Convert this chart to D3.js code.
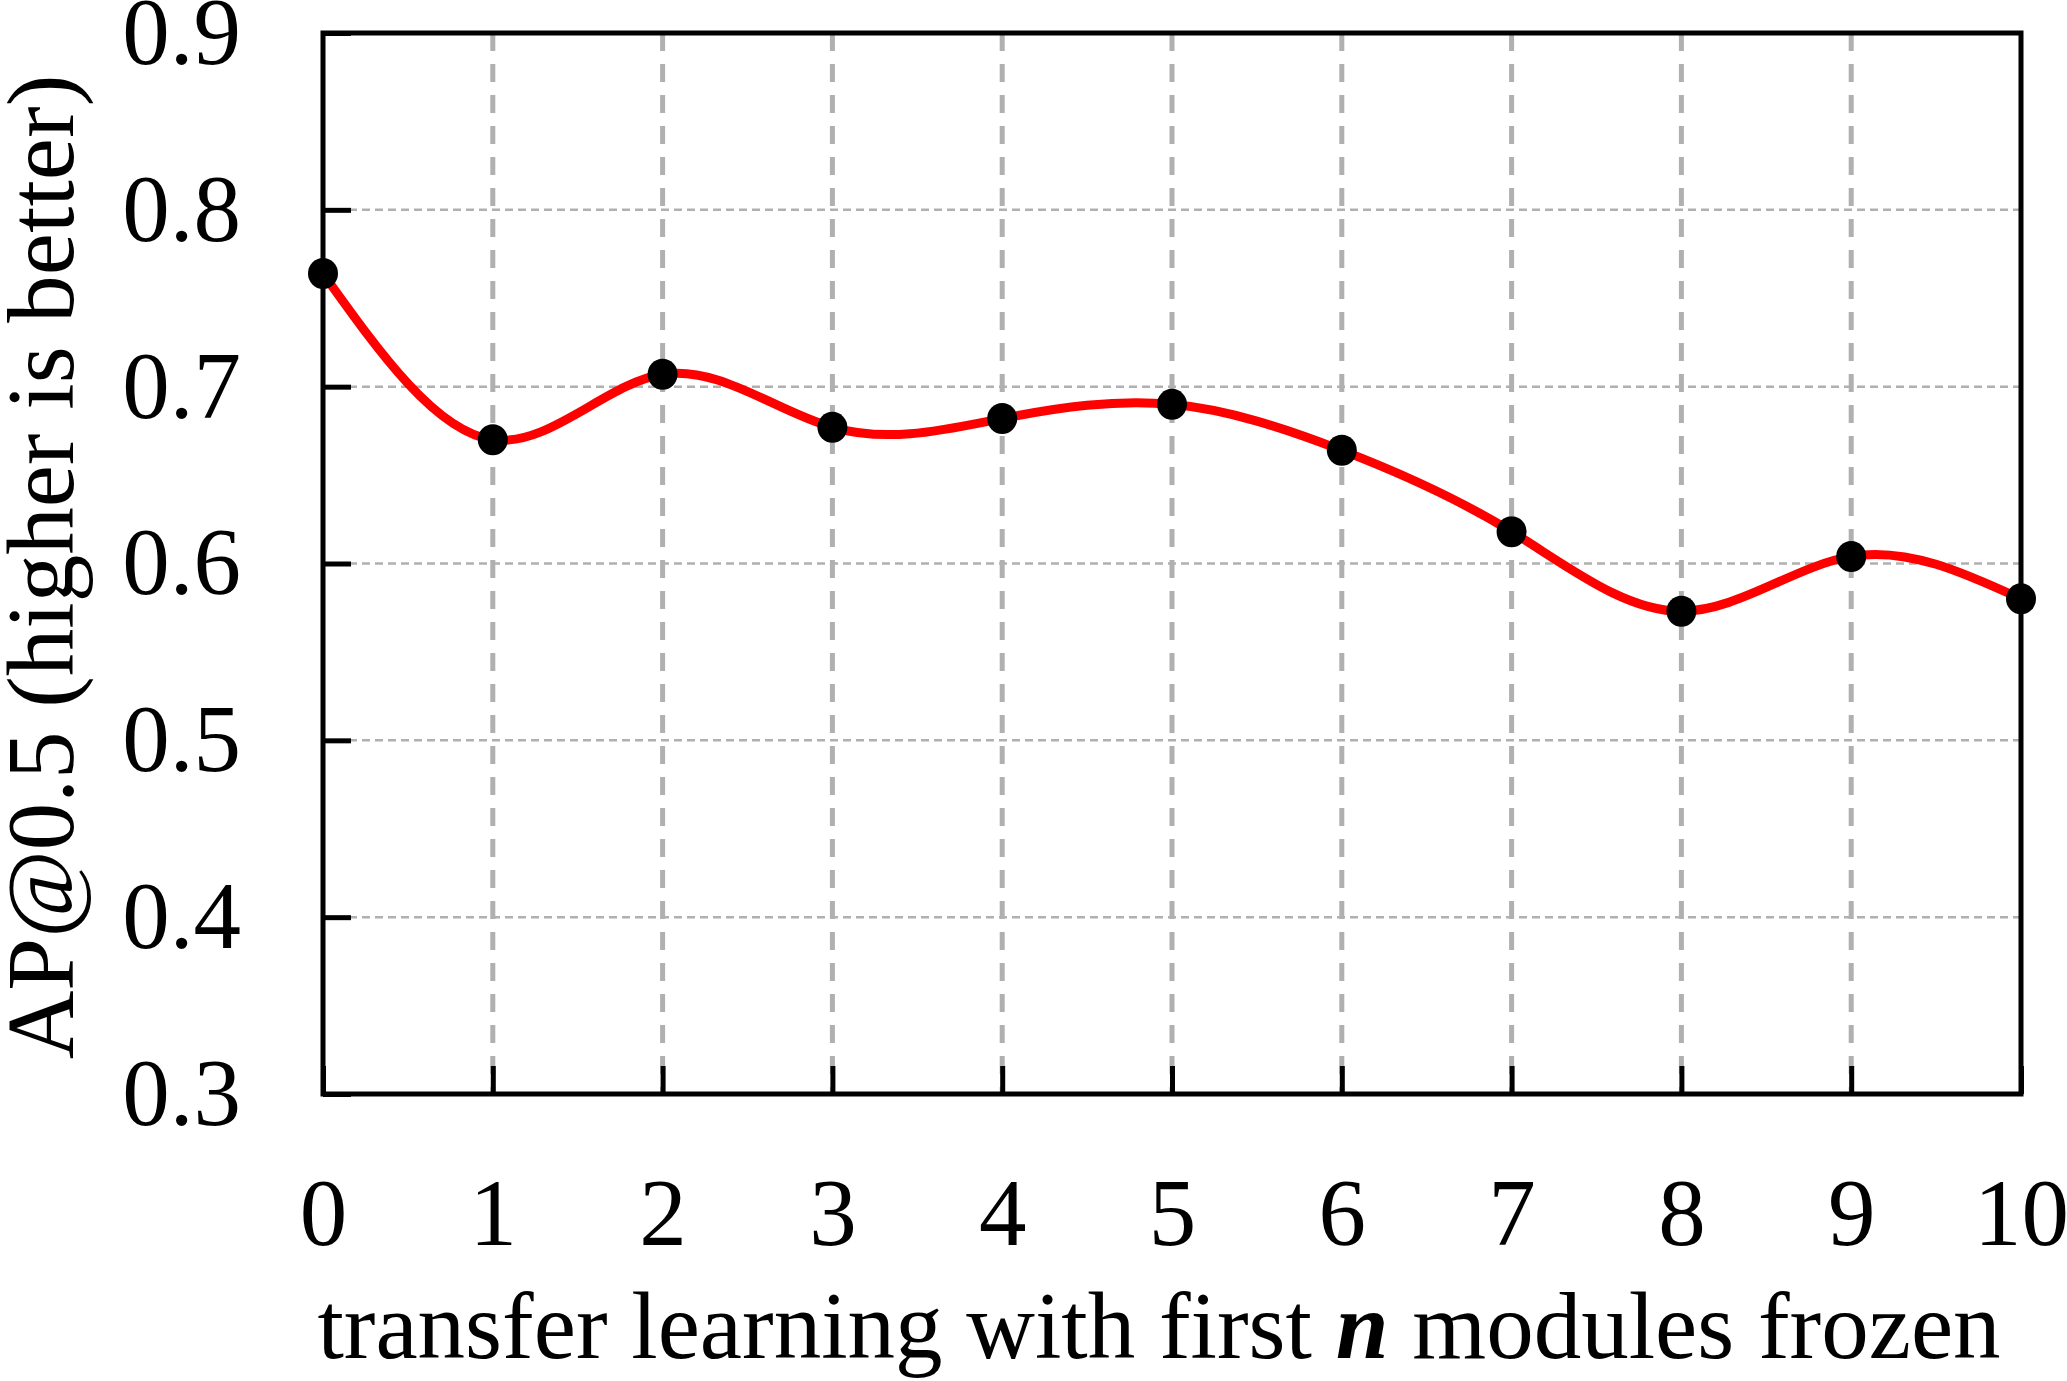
<!DOCTYPE html>
<html>
<head>
<meta charset="utf-8">
<script src="https://cdn.jsdelivr.net/npm/d3@7"></script>
<style>
  html, body { margin: 0; padding: 0; background: #fff; }
  svg { display: block; }
  text { font-family: "Liberation Serif", "Times New Roman", serif; fill: #000; }
</style>
</head>
<body>
<svg id="chart"></svg>
<script>
// Data
const frozenModules = [0, 1, 2, 3, 4, 5, 6, 7, 8, 9, 10];
const apValues = [0.764, 0.670, 0.707, 0.677, 0.682, 0.690, 0.664, 0.618, 0.573, 0.604, 0.580];
const yTicks = [0.3, 0.4, 0.5, 0.6, 0.7, 0.8, 0.9];
const xTicks = [0, 1, 2, 3, 4, 5, 6, 7, 8, 9, 10];

// Layout
const layout = {
  width: 2067,
  height: 1381,
  left: 323,
  right: 2021,
  top: 33,
  bottom: 1094,
};
const fontSize = 95;
const tickLen = 28;

const svg = d3.select('#chart')
  .attr('width', layout.width)
  .attr('height', layout.height);

// Scales
const x = d3.scaleLinear().domain([0, 10]).range([layout.left, layout.right]);
const y = d3.scaleLinear().domain([0.3, 0.9]).range([layout.bottom, layout.top]);

// Grid lines
const grid = svg.append('g').attr('class', 'grid');
grid.selectAll('line.h')
  .data(yTicks.slice(1, -1))
  .enter().append('line')
  .attr('x1', layout.left)
  .attr('x2', layout.right)
  .attr('y1', d => y(d))
  .attr('y2', d => y(d))
  .attr('stroke', '#b0b0b0')
  .attr('stroke-width', 2.5)
  .attr('stroke-dasharray', '8,5');

grid.selectAll('line.v')
  .data(xTicks.slice(1, -1))
  .enter().append('line')
  .attr('x1', d => x(d))
  .attr('x2', d => x(d))
  .attr('y1', layout.top)
  .attr('y2', layout.bottom)
  .attr('stroke', '#b0b0b0')
  .attr('stroke-width', 5)
  .attr('stroke-dasharray', '18,13');

// Axes (ticks point inward)
const yAxis = svg.append('g')
  .attr('transform', `translate(${layout.left},0)`)
  .call(d3.axisLeft(y)
    .tickValues(yTicks)
    .tickFormat(d3.format('.1f'))
    .tickSizeInner(-tickLen)
    .tickSizeOuter(0)
    .tickPadding(82));

const xAxis = svg.append('g')
  .attr('transform', `translate(0,${layout.bottom})`)
  .call(d3.axisBottom(x)
    .tickValues(xTicks)
    .tickFormat(d3.format('d'))
    .tickSizeInner(-tickLen)
    .tickSizeOuter(0)
    .tickPadding(84));

[yAxis, xAxis].forEach(function(axis) {
  axis.select('.domain').remove();
  axis.selectAll('.tick line').attr('stroke', '#000').attr('stroke-width', 5);
  axis.selectAll('.tick text')
    .style('font-family', '"Liberation Serif", "Times New Roman", serif')
    .style('font-size', fontSize + 'px')
    .attr('fill', '#000');
});

// Frame
svg.append('rect')
  .attr('x', layout.left)
  .attr('y', layout.top)
  .attr('width', layout.right - layout.left)
  .attr('height', layout.bottom - layout.top)
  .attr('fill', 'none')
  .attr('stroke', '#000')
  .attr('stroke-width', 5);

// Smoothed line
const points = frozenModules.map((n, i) => ({ n: n, value: apValues[i] }));
const line = d3.line()
  .x(d => x(d.n))
  .y(d => y(d.value))
  .curve(d3.curveNatural);

svg.append('path')
  .datum(points)
  .attr('d', line)
  .attr('fill', 'none')
  .attr('stroke', '#ff0000')
  .attr('stroke-width', 9);

// Markers
svg.selectAll('ellipse.pt')
  .data(points)
  .enter().append('ellipse')
  .attr('class', 'pt')
  .attr('cx', d => x(d.n))
  .attr('cy', d => y(d.value))
  .attr('rx', 15)
  .attr('ry', 15.5)
  .attr('fill', '#000');

// Axis titles
const xLabel = svg.append('text')
  .attr('x', 1159)
  .attr('y', 1358)
  .attr('text-anchor', 'middle')
  .style('font-size', fontSize + 'px');
xLabel.append('tspan').text('transfer learning with first ');
xLabel.append('tspan').attr('font-weight', 'bold').attr('font-style', 'italic').text('n');
xLabel.append('tspan').text(' modules frozen');

svg.append('text')
  .attr('transform', 'translate(73,567) rotate(-90)')
  .attr('text-anchor', 'middle')
  .style('font-size', fontSize + 'px')
  .text('AP@0.5 (higher is better)');
</script>
</body>
</html>
